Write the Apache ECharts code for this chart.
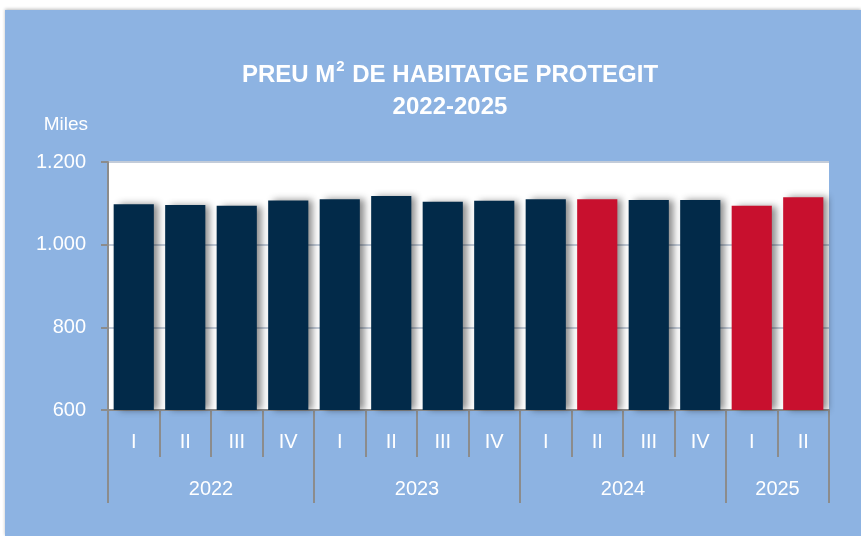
<!DOCTYPE html>
<html>
<head>
<meta charset="utf-8">
<script src="https://cdn.jsdelivr.net/npm/echarts@6/dist/echarts.min.js"></script>
<style>
  html, body { margin: 0; padding: 0; background: #fff; }
  #chart { width: 861px; height: 536px; }
</style>
</head>
<body>
<div id="chart"></div>
<script>
// dades
const quarters = ['I', 'II', 'III', 'IV', 'I', 'II', 'III', 'IV', 'I', 'II', 'III', 'IV', 'I', 'II']
const prices = [1098, 1096, 1094, 1107, 1110, 1118, 1104, 1106, 1110, 1110, 1108, 1108, 1094, 1115]
// trimestres destacats en vermell
const highlighted = [false, false, false, false, false, false, false, false, false, true, false, false, true, true]
// etiquetes d'any, col·locades a les fronteres entre trimestres (0..14)
const yearSlots = ['', '', '2022', '', '', '', '2023', '', '', '', '2024', '', '', '2025', '']
const yearBounds = [0, 4, 8, 12, 14]

const NAVY = '#022a49'
const RED = '#c8102e'
const BG = '#8db3e2'
const AXIS_GRAY = '#8c8c8c'
const FONT = 'Liberation Sans'

const chart = echarts.init(document.getElementById('chart'))

const option = {
  backgroundColor: '#fff',
  textStyle: { fontFamily: FONT },
  graphic: [{
    type: 'rect',
    z: -10,
    shape: { x: 5, y: 10, width: 856, height: 526 },
    style: { fill: BG, shadowColor: 'rgba(0,0,0,0.25)', shadowBlur: 3, shadowOffsetY: -1 }
  }],
  title: {
    text: '{a|PREU M}{s|2}{a| DE HABITATGE PROTEGIT}\n{a|2022-2025}',
    left: 445,
    textAlign: 'center',
    top: 54,
    textStyle: {
      rich: {
        a: { fontFamily: FONT, fontSize: 24, fontWeight: 'bold', color: '#fff', lineHeight: 32 },
        s: { fontFamily: FONT, fontSize: 15, fontWeight: 'bold', color: '#fff', verticalAlign: 'top', lineHeight: 32, padding: [0, 1, 0, 1] }
      }
    }
  },
  grid: {
    left: 108,
    right: 32,
    top: 162,
    bottom: 126,
    show: true,
    backgroundColor: '#fff',
    borderWidth: 0
  },
  xAxis: [
    {
      type: 'category',
      data: quarters,
      position: 'bottom',
      axisLine: { lineStyle: { color: AXIS_GRAY, width: 2 } },
      axisTick: { show: true, length: 47, interval: 0, lineStyle: { color: AXIS_GRAY, width: 2 } },
      axisLabel: { interval: 0, margin: 22, color: '#fff', fontSize: 20, fontFamily: FONT }
    },
    {
      type: 'category',
      data: yearSlots,
      position: 'bottom',
      boundaryGap: false,
      axisLine: { show: false },
      axisTick: {
        show: true,
        length: 93,
        interval: (i) => yearBounds.includes(i),
        lineStyle: { color: AXIS_GRAY, width: 2 }
      },
      axisLabel: { interval: 0, margin: 69, color: '#fff', fontSize: 20, fontFamily: FONT }
    }
  ],
  yAxis: {
    type: 'value',
    min: 600,
    max: 1200,
    interval: 200,
    name: 'Miles',
    nameLocation: 'end',
    nameGap: 28,
    nameTextStyle: { color: '#fff', fontSize: 19, fontFamily: FONT, align: 'right', padding: [0, 20, 0, 0] },
    axisLine: { show: true, lineStyle: { color: AXIS_GRAY, width: 2 } },
    axisTick: { show: true, length: 7, lineStyle: { color: AXIS_GRAY, width: 2 } },
    axisLabel: {
      margin: 22,
      color: '#fff',
      fontSize: 20,
      fontFamily: FONT,
      formatter: (v) => v >= 1000 ? Math.floor(v / 1000) + '.' + String(v % 1000).padStart(3, '0') : String(v)
    },
    splitLine: { show: true, lineStyle: { color: '#c3ccd9', width: 2 } }
  },
  series: [{
    type: 'bar',
    xAxisIndex: 0,
    barWidth: '78%',
    data: prices.map((v, i) => ({
      value: v,
      itemStyle: { color: highlighted[i] ? RED : NAVY }
    })),
    itemStyle: {
      shadowColor: 'rgba(0,0,0,0.45)',
      shadowBlur: 7,
      shadowOffsetX: 5,
      shadowOffsetY: 0
    }
  }]
}

chart.setOption(option)
</script>
</body>
</html>
